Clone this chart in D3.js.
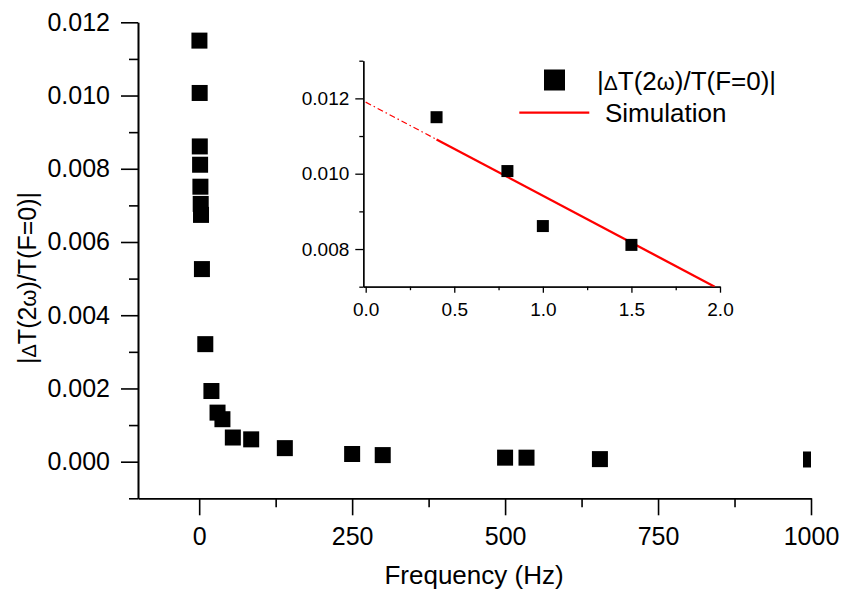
<!DOCTYPE html>
<html>
<head>
    <meta charset="utf-8">
    <script src="https://cdn.jsdelivr.net/npm/d3@7/dist/d3.min.js"></script>
    <style>
        * {
            margin: 0;
            padding: 0;
        }

        body {
            background: #fff;
        }

        svg {
            display: block;
            font-family: Arial, "Liberation Sans", sans-serif;
        }
    </style>
</head>
<body>
    <svg id="chart" width="845" height="596"></svg>
    <script>
        // measured points, frequency (Hz) vs |dT(2w)/T(F=0)|
        var freq = [0.4, 0.8, 1.0, 1.5, 2, 2.5, 3, 4.5, 10, 20, 30, 38, 55, 85, 140, 250, 300, 500, 535, 655, 1000];
        var ratio = [0.01150, 0.01007, 0.00861, 0.00811, 0.00751, 0.00704, 0.00674, 0.00526, 0.00321, 0.00193,
            0.00134, 0.00116, 0.00066, 0.00061, 0.00037, 0.00021, 0.00018, 0.00011, 0.00011, 0.00007, 0.00006];
        var insetCount = 4; // the first four points are repeated in the inset

        // simulation line in the inset
        var simFreq = [0, 0.4, 1.97];
        var simRatio = [0.01190, 0.01091, 0.00700];

        var xTicks = [0, 250, 500, 750, 1000];
        var xMinor = [125, 375, 625, 875];
        var yTicks = [0, 0.002, 0.004, 0.006, 0.008, 0.010, 0.012];
        var yMinor = [-0.001, 0.001, 0.003, 0.005, 0.007, 0.009, 0.011];

        var insetXTicks = [0, 0.5, 1.0, 1.5, 2.0];
        var insetXMinor = [0.25, 0.75, 1.25, 1.75];
        var insetYTicks = [0.008, 0.010, 0.012];
        var insetYMinor = [0.007, 0.009, 0.011, 0.013];

        var svg = d3.select("#chart");

        // ---------- main plot ----------
        var x = d3.scaleLinear().domain([-100, 1000]).range([138, 811]);
        var y = d3.scaleLinear().domain([-0.001, 0.012]).range([498.3, 22.3]);

        svg.append("defs").append("clipPath").attr("id", "mainClip")
            .append("rect")
            .attr("x", 138).attr("y", 0)
            .attr("width", 811 - 138).attr("height", 498.3);

        function styleAxis(g, size, width) {
            g.selectAll("path, line").attr("stroke", "#000").attr("stroke-width", width);
            g.selectAll("text").style("font-size", size + "px").attr("fill", "#000");
        }

        var xMinorAxis = svg.append("g")
            .attr("transform", "translate(0,498.3)")
            .call(d3.axisBottom(x).tickValues(xMinor).tickSize(9).tickSizeOuter(0).tickFormat(""));
        styleAxis(xMinorAxis, 25, 1.6);

        var xAxis = svg.append("g")
            .attr("transform", "translate(0,498.3)")
            .call(d3.axisBottom(x).tickValues(xTicks).tickSize(17).tickSizeOuter(0)
                .tickPadding(12).tickFormat(d3.format("d")));
        styleAxis(xAxis, 25, 1.6);

        var yMinorAxis = svg.append("g")
            .attr("transform", "translate(138,0)")
            .call(d3.axisLeft(y).tickValues(yMinor).tickSize(9).tickSizeOuter(0).tickFormat(""));
        styleAxis(yMinorAxis, 25, 1.6);

        var yAxis = svg.append("g")
            .attr("transform", "translate(138,0)")
            .call(d3.axisLeft(y).tickValues(yTicks).tickSize(17).tickSizeOuter(0)
                .tickPadding(11).tickFormat(d3.format(".3f")));
        styleAxis(yAxis, 25, 1.6);

        var pts = freq.map(function (f, i) { return { f: f, r: ratio[i] }; });

        svg.append("g")
            .attr("clip-path", "url(#mainClip)")
            .selectAll("rect")
            .data(pts)
            .enter()
            .append("rect")
            .attr("x", function (d) { return x(d.f) - 8; })
            .attr("y", function (d) { return y(d.r) - 8; })
            .attr("width", 16)
            .attr("height", 16)
            .attr("fill", "#000");

        svg.append("text")
            .attr("x", 474)
            .attr("y", 584)
            .attr("text-anchor", "middle")
            .style("font-size", "26px")
            .text("Frequency (Hz)");

        var yTitle = svg.append("text")
            .attr("transform", "translate(36,278) rotate(-90)")
            .attr("text-anchor", "middle")
            .style("font-size", "25px");
        yTitle.append("tspan").text("|");
        yTitle.append("tspan").style("font-size", "20px").text("\u0394");
        yTitle.append("tspan").text("T(2");
        yTitle.append("tspan").style("font-size", "22px").text("\u03c9");
        yTitle.append("tspan").text(")/T(F=0)|");

        // ---------- inset ----------
        var ix = d3.scaleLinear().domain([-0.0135, 2.0]).range([363.3, 720]);
        var iy = d3.scaleLinear().domain([0.007, 0.013]).range([286.7, 60.7]);

        svg.append("defs").append("clipPath").attr("id", "insetClip")
            .append("rect")
            .attr("x", 363.3).attr("y", 60.7)
            .attr("width", 720 - 363.3).attr("height", 286.7 - 60.7);

        var ixMinorAxis = svg.append("g")
            .attr("transform", "translate(0,286.7)")
            .call(d3.axisBottom(ix).tickValues(insetXMinor).tickSize(3.5).tickSizeOuter(0).tickFormat(""));
        styleAxis(ixMinorAxis, 19, 1.3);

        var ixAxis = svg.append("g")
            .attr("transform", "translate(0,286.7)")
            .call(d3.axisBottom(ix).tickValues(insetXTicks).tickSize(6).tickSizeOuter(0)
                .tickPadding(10).tickFormat(d3.format(".1f")));
        styleAxis(ixAxis, 19, 1.3);

        var iyMinorAxis = svg.append("g")
            .attr("transform", "translate(363.3,0)")
            .call(d3.axisLeft(iy).tickValues(insetYMinor).tickSize(4).tickSizeOuter(0).tickFormat(""));
        styleAxis(iyMinorAxis, 19, 1.3);

        var iyAxis = svg.append("g")
            .attr("transform", "translate(363.3,0)")
            .call(d3.axisLeft(iy).tickValues(insetYTicks).tickSize(8).tickSizeOuter(0)
                .tickPadding(6).tickFormat(d3.format(".3f")));
        styleAxis(iyAxis, 19, 1.3);

        var sim = simFreq.map(function (f, i) { return { f: f, r: simRatio[i] }; });
        var simLine = d3.line()
            .x(function (d) { return ix(d.f); })
            .y(function (d) { return iy(d.r); });

        var simG = svg.append("g").attr("clip-path", "url(#insetClip)");
        simG.append("path")
            .datum(sim.filter(function (d) { return d.f <= 0.4; }))
            .attr("d", simLine)
            .attr("fill", "none")
            .attr("stroke", "#ff0000")
            .attr("stroke-width", 1.2)
            .attr("stroke-dasharray", "6,3,1.5,3");
        simG.append("path")
            .datum(sim.filter(function (d) { return d.f >= 0.4; }))
            .attr("d", simLine)
            .attr("fill", "none")
            .attr("stroke", "#ff0000")
            .attr("stroke-width", 2.3);

        svg.append("g")
            .selectAll("rect")
            .data(pts.slice(0, insetCount))
            .enter()
            .append("rect")
            .attr("x", function (d) { return ix(d.f) - 6; })
            .attr("y", function (d) { return iy(d.r) - 6; })
            .attr("width", 12)
            .attr("height", 12)
            .attr("fill", "#000");

        // legend
        svg.append("rect")
            .attr("x", 544).attr("y", 69.5)
            .attr("width", 21).attr("height", 21)
            .attr("fill", "#000");

        var legText = svg.append("text")
            .attr("x", 597)
            .attr("y", 89.5)
            .style("font-size", "26px");
        legText.append("tspan").text("|");
        legText.append("tspan").style("font-size", "21px").text("\u0394");
        legText.append("tspan").text("T(2");
        legText.append("tspan").style("font-size", "23px").text("\u03c9");
        legText.append("tspan").text(")/T(F=0)|");

        svg.append("line")
            .attr("x1", 519.3).attr("x2", 589.3)
            .attr("y1", 112.7).attr("y2", 112.7)
            .attr("stroke", "#ff0000")
            .attr("stroke-width", 2.3);

        svg.append("text")
            .attr("x", 605)
            .attr("y", 122.3)
            .style("font-size", "26px")
            .text("Simulation");
    </script>
</body>
</html>
